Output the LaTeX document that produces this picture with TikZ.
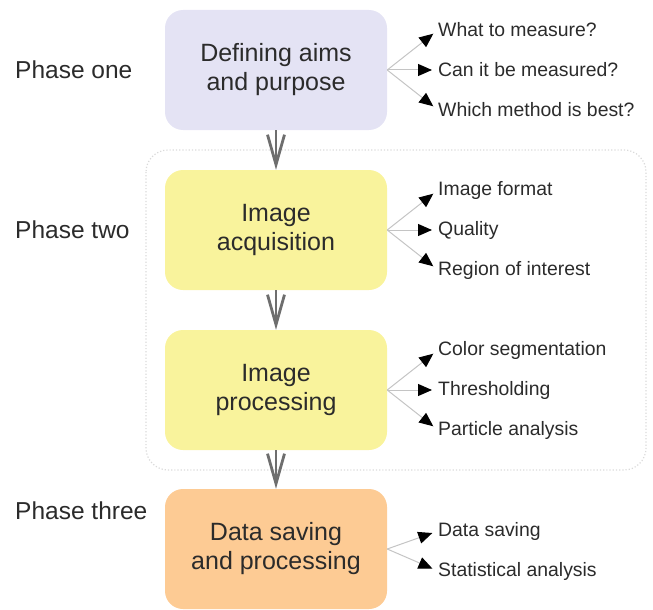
\documentclass[tikz,border=0pt]{standalone}
\usepackage{fontspec}
\setmainfont{Liberation Sans}
\usetikzlibrary{arrows.meta}
\definecolor{txt}{HTML}{2B2B2B}
\definecolor{lav}{HTML}{E4E3F4}
\definecolor{yel}{HTML}{F9F39C}
\definecolor{ora}{HTML}{FDCB94}
\definecolor{flowgray}{HTML}{6E6E6E}
\definecolor{sidegray}{HTML}{C4C4C4}
\definecolor{dotgray}{HTML}{DADADA}
\tikzset{
  phasebox/.style={rounded corners=18pt, minimum width=222pt, minimum height=120pt,
    align=center, text=txt, font=\fontsize{25}{29}\selectfont, inner sep=0pt},
  phaselabel/.style={anchor=west, text=txt, font=\fontsize{24.5}{29}\selectfont, inner sep=0pt},
  sidetext/.style={anchor=west, text=txt, font=\fontsize{19.4}{22}\selectfont, inner sep=0pt},
  flow/.style={draw=flowgray, line width=2.8pt, -{Straight Barb[length=30pt,width=17pt,line width=2.8pt]}},
  side/.style={draw=sidegray, line width=1pt, -{Triangle[length=14pt,width=12pt,fill=black,color=black]}, shorten >=6pt}
}
\begin{document}
\begin{tikzpicture}[x=1pt,y=-1pt]
\useasboundingbox (0,0) rectangle (653,610);
% container
\draw[dotgray, dotted, line width=1.2pt, rounded corners=22pt] (146,150) rectangle (646,470);
% boxes
\node[phasebox, fill=lav] (b1) at (276,70) {Defining aims\\and purpose};
\node[phasebox, fill=yel] (b2) at (276,230) {Image\\acquisition};
\node[phasebox, fill=yel] (b3) at (276,390) {Image\\processing};
\node[phasebox, fill=ora] (b4) at (276,549) {Data saving\\and processing};
% phase labels
\node[phaselabel] (p1) at (15,70) {Phase one};
\node[phaselabel] (p2) at (15,230) {Phase two};
\node[phaselabel] (p3) at (15,511) {Phase three};
% flow arrows
\draw[flow] (b1.south) -- (b2.north);
\draw[flow] (b2.south) -- (b3.north);
\draw[flow] (b3.south) -- (b4.north);
% side texts
\node[sidetext] (a1) at (438,30) {What to measure?};
\node[sidetext] (a2) at (438,70) {Can it be measured?};
\node[sidetext] (a3) at (438,110) {Which method is best?};
\node[sidetext] (c1) at (438,190) {Image format};
\node[sidetext] (c2) at (438,230) {Quality};
\node[sidetext] (c3) at (438,270) {Region of interest};
\node[sidetext] (d1) at (438,350) {Color segmentation};
\node[sidetext] (d2) at (438,390) {Thresholding};
\node[sidetext] (d3) at (438,430) {Particle analysis};
\node[sidetext] (e1) at (438,531) {Data saving};
\node[sidetext] (e2) at (438,571) {Statistical analysis};
% side arrows
\foreach \t in {a1,a2,a3} \draw[side] (b1.east) -- (\t.west);
\foreach \t in {c1,c2,c3} \draw[side] (b2.east) -- (\t.west);
\foreach \t in {d1,d2,d3} \draw[side] (b3.east) -- (\t.west);
\foreach \t in {e1,e2} \draw[side] (b4.east) -- (\t.west);
\end{tikzpicture}
\end{document}
